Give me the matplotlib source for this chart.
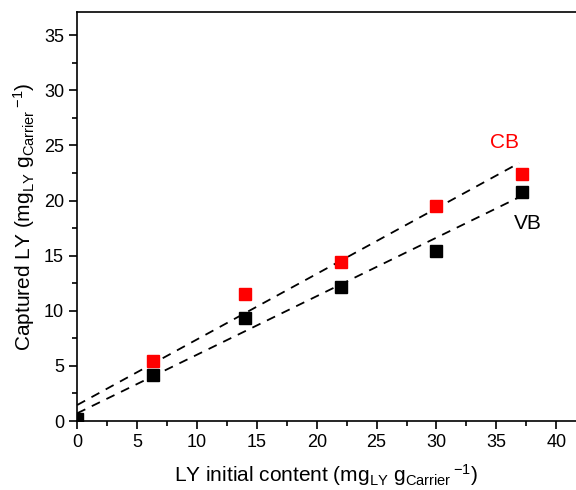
import matplotlib
matplotlib.use("Agg")
import matplotlib.pyplot as plt
from matplotlib.ticker import MultipleLocator

plt.rcParams['font.family'] = ['Liberation Sans', 'DejaVu Sans']
plt.rcParams['mathtext.fontset'] = 'custom'
plt.rcParams['mathtext.rm'] = 'Liberation Sans'
plt.rcParams['mathtext.it'] = 'Liberation Sans'

# Data
x_cb = [6.3, 14.0, 22.0, 30.0, 37.1]
y_cb = [5.4, 11.5, 14.4, 19.5, 22.4]
x_vb = [0.0, 6.3, 14.0, 22.0, 30.0, 37.1]
y_vb = [0.2, 4.2, 9.3, 12.2, 15.4, 20.8]
fit_x = [0.0, 36.9]
fit_cb = [1.45, 23.4]
fit_vb = [0.7, 20.3]

fig = plt.figure(figsize=(5.76, 4.90), dpi=100)
ax = fig.add_axes([0.134, 0.1408, 0.866, 0.8347])

ax.plot(fit_x, fit_cb, linestyle=(0, (5, 4)), color='black', lw=1.3, zorder=2)
ax.plot(fit_x, fit_vb, linestyle=(0, (5, 4)), color='black', lw=1.3, zorder=2)
ax.plot(x_cb, y_cb, linestyle='none', marker='s', markersize=8.5, color='#ff0000', zorder=3)
ax.plot(x_vb, y_vb, linestyle='none', marker='s', markersize=8.5, color='black', zorder=3)

ax.text(35.7, 25.3, 'CB', color='#ff0000', fontsize=15, ha='center', va='center')
ax.text(37.6, 17.95, 'VB', color='black', fontsize=15, ha='center', va='center')

ax.set_xlim(0, 41.65)
ax.set_ylim(0, 37.1)
ax.xaxis.set_major_locator(MultipleLocator(5))
ax.xaxis.set_minor_locator(MultipleLocator(2.5))
ax.yaxis.set_major_locator(MultipleLocator(5))
ax.yaxis.set_minor_locator(MultipleLocator(2.5))
ax.tick_params(which='major', direction='out', length=5.5, width=1.2, labelsize=13, pad=4)
ax.tick_params(which='minor', direction='out', length=3.5, width=1.2)
ax.tick_params(top=False, right=False)
for s in ax.spines.values():
    s.set_linewidth(1.2)
ax.spines['right'].set_visible(False)

unit = r'(mg$_{\mathregular{LY}}$ g$_{\mathregular{Carrier}}\,^{\mathregular{-1}}$)'
ax.set_xlabel('LY initial content ' + unit, fontsize=15, labelpad=8)
ax.set_ylabel('Captured LY ' + unit, fontsize=15, labelpad=5)

fig.savefig('out.png', dpi=100)
